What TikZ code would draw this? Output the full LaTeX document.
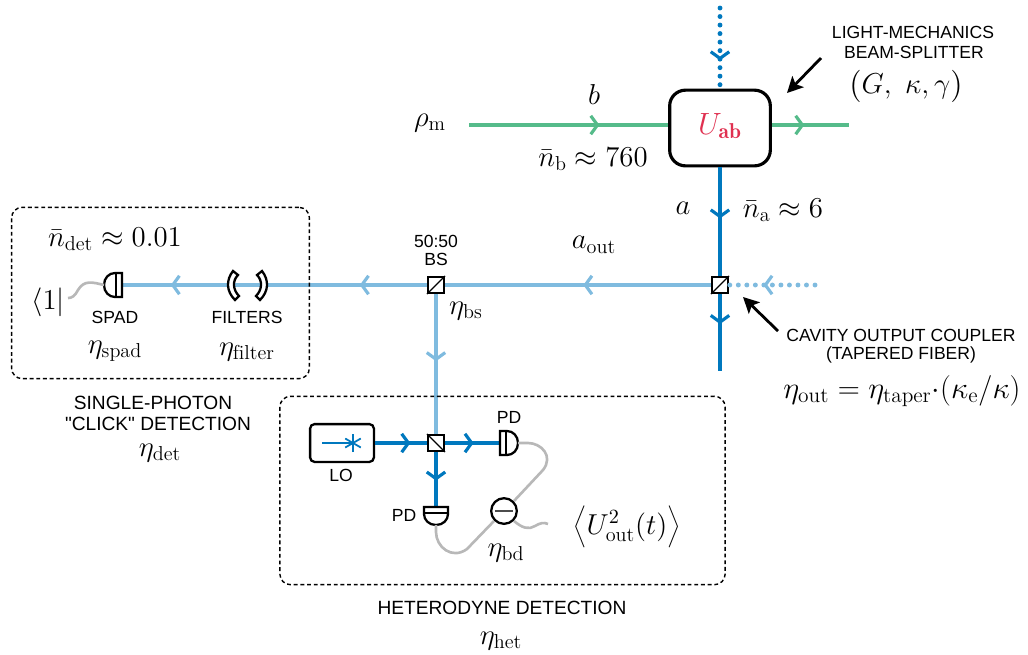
\documentclass[tikz,border=0pt]{standalone}
\usepackage{fix-cm}
\usepackage{fontspec}
\newfontfamily\labelsans{Liberation Sans}
\usetikzlibrary{arrows.meta,calc,decorations.markings}

\definecolor{beamdark}{RGB}{0,120,190}
\definecolor{beamlight}{RGB}{127,187,223}
\definecolor{beamgreen}{RGB}{85,187,138}
\definecolor{redab}{RGB}{224,48,80}
\definecolor{wiregray}{RGB}{184,184,184}

\def\tallstrut{\vrule height 11pt depth 6pt width 0pt}
\def\largedelim#1{\raisebox{-0.6pt}{\scalebox{1.12}{$#1$}}}

\tikzset{
	lbl/.style={font=\labelsans\fontsize{10}{12}\selectfont,inner sep=0},
	lblbig/.style={font=\labelsans\fontsize{10.9}{12}\selectfont,inner sep=0},
	eq/.style={font=\fontsize{16.4}{19}\selectfont,inner sep=0},
	beamtip/.style={postaction={decorate},decoration={markings,
		mark=at position #1 with {\arrow{Straight Barb[length=3.8pt,width=10.5pt,line width=1.8pt]}}}},
	darkbeam/.style={beamdark,line width=2.4pt},
	lightbeam/.style={beamlight,line width=2.5pt},
	greenbeam/.style={beamgreen,line width=2.4pt},
	dotbeam/.style={line width=2.8pt,line cap=round,dash pattern=on 0pt off 4.85pt},
	wire/.style={wiregray,line width=1.5pt},
	cube/.style={draw=black,fill=white,line width=1.3pt,minimum size=9pt,inner sep=0},
	dashbox/.style={draw=black,dash pattern=on 2.2pt off 1.6pt,line width=0.8pt,rounded corners=6pt},
	pointer/.style={-{Stealth[length=9pt,width=9pt,inset=2pt]},line width=1.6pt},
	detector/.pic={
		\draw[black,line width=1.3pt,fill=white] (0,-12) -- (0,12) -- (7,12)
			.. controls (13,12) and (18,7) .. (18,0)
			.. controls (18,-7) and (13,-12) .. (7,-12) -- cycle;
		\draw[black,line width=0.7pt] (6,-12) -- (6,12);
		\coordinate (-tip) at (18,0);
	}
}

\begin{document}
\begin{tikzpicture}[x=0.02cm,y=-0.02cm]
\useasboundingbox (0,0) rectangle (1028,654);

\coordinate (topin) at (720,8);
\coordinate (bottomend) at (720,371);
\coordinate (dotin) at (815,285);
\coordinate (rhoin) at (469,125);
\coordinate (greenout) at (849,125);

% the boxes
\node[draw=black,fill=white,line width=1.8pt,rounded corners=9pt,minimum width=57.3pt,minimum height=43.1pt,inner sep=0] (uab) at (720,128) {};
\node[cube] (coupler) at (720,285) {};
\node[cube] (bsmain) at (436,285) {};
\node[cube] (bshet) at (436,443) {};
\node[draw=black,fill=white,line width=1.3pt,rounded corners=2.5pt,minimum width=36.3pt,minimum height=21.5pt,inner sep=0] (lo) at (342,443) {};
\node[draw=black,fill=white,circle,line width=1.3pt,minimum size=14.6pt,inner sep=0] (diff) at (504,511) {};

\draw[black,line width=0.7pt] (coupler.south west)--(coupler.north east);
\draw[black,line width=0.7pt] (bsmain.south west)--(bsmain.north east);
\draw[black,line width=0.7pt] (bshet.north west)--(bshet.south east);
\draw[black!70,line width=0.6pt] (495,511)--(513,511);

% signal and pump
\draw[greenbeam,beamtip=0.655] (rhoin) -- (uab.west |- rhoin);
\draw[greenbeam,beamtip=0.42] (uab.east |- greenout) -- (greenout);
\draw[beamdark,dotbeam,beamtip=0.65] (topin) -- (uab.north);
\draw[darkbeam,beamtip=0.47] (uab.south) -- (coupler.north);
\draw[darkbeam,beamtip=0.39] (coupler.south) -- (bottomend);

\coordinate (spadflat) at (122,285);
\coordinate (pdrflat) at (500,443);
\coordinate (pdbflat) at (436,507);

\draw[beamlight,dotbeam,beamtip=0.6] (dotin) -- (coupler.east);
\draw[lightbeam,beamtip=0.48] (coupler.west) -- (bsmain.east);
\draw[lightbeam,beamtip=0.84] (bsmain.west) -- (spadflat);
\draw[lightbeam,beamtip=0.22] (bsmain.west) -- (spadflat);
\draw[lightbeam,beamtip=0.48] (bsmain.south) -- (bshet.north);

% heterodyne arm
\draw[darkbeam,beamtip=0.68] (lo.east) -- (bshet.west);
\draw[darkbeam,beamtip=0.52] (bshet.east) -- (pdrflat);
\draw[darkbeam,beamtip=0.52] (bshet.south) -- (pdbflat);

% LO emitter
\coordinate (star) at (353,443);
\draw[beamdark,line width=0.8pt] (322,443) -- (star);
\foreach \ang in {0,60,120}
	\draw[beamdark,line width=1pt] ($(star)+(90+\ang:9)$) -- ($(star)+(270+\ang:9)$);

% detectors
\pic[rotate=180] (spad) at (spadflat) {detector};
\pic (pdr) at (pdrflat) {detector};
\pic[rotate=-90] (pdb) at (pdbflat) {detector};

% filters
\draw[black,line width=1.3pt,fill=white] (233,271) .. controls (226,280) and (226,291) .. (235,300)
	-- (239,296) .. controls (233,290) and (232,281) .. (238,275) -- cycle;
\draw[black,line width=1.3pt,fill=white] (262,271) .. controls (269,280) and (269,291) .. (260,300)
	-- (256,296) .. controls (262,290) and (263,281) .. (257,275) -- cycle;

% wires
\coordinate (clickend) at (68,298);
\coordinate (diffend) at (548,524);
\draw[wire] (spad-tip) .. controls (92,282) and (84,280) .. (78,290) .. controls (75,296) and (72,298) .. (clickend);
\draw[wire] (pdr-tip) -- (528,443) .. controls (541,443) and (554,456) .. (543,470) -- (diff.north east);
\draw[wire] (pdb-tip) -- (436,532) .. controls (436,547) and (452,560) .. (467,549) -- (diff.south west);
\draw[wire] (diff.south east) .. controls (522,528) and (529,530) .. (535,526) .. controls (540,523) and (544,522) .. (diffend);

% dashed frames
\node[dashbox,minimum width=169.5pt,minimum height=97.5pt,inner sep=0] (clickbox) at (160.5,293) {};
\node[dashbox,minimum width=253.4pt,minimum height=107.2pt,inner sep=0] (hetbox) at (502.5,490.5) {};

% pointers
\coordinate (lmstart) at (821,58);
\coordinate (lmtip) at (787,93);
\coordinate (costart) at (778,331);
\coordinate (cotip) at (743,297);
\draw[pointer] (lmstart) -- (lmtip);
\draw[pointer] (costart) -- (cotip);

% labels
\node[eq,redab,font=\fontsize{17.5}{19}\selectfont] (uablabel) at (720,126) {$U_{\mathbf{ab}}$};
\node[eq] (blabel) at (594,94) {$b$};
\node[eq] (rholabel) at (430,123) {$\rho_{\mathrm{m}}$};
\node[eq] (nblabel) at (593,159) {$\bar n_{\mathrm{b}}\approx 760$};
\node[eq] (alabel) at (683,208) {$a$};
\node[eq] (nalabel) at (783,210) {$\bar n_{\mathrm{a}}\approx 6$};
\node[eq] (aoutlabel) at (594,245) {$a_{\mathrm{out}}$};
\node[eq] (ndetlabel) at (115,239) {$\bar n_{\mathrm{det}}\approx 0.01$};
\node[eq] (bralabel) at (48,302) {$\langle 1|$};
\node[eq] (etabs) at (466,311) {$\eta_{\mathrm{bs}}$};
\node[eq] (etaspad) at (115,351) {$\eta_{\mathrm{spad}}$};
\node[eq] (etafilter) at (247,352) {$\eta_{\mathrm{filter}}$};
\node[eq] (etadet) at (160,453) {$\eta_{\mathrm{det}}$};
\node[eq] (etabd) at (506,553) {$\eta_{\mathrm{bd}}$};
\node[eq] (etahet) at (501,641) {$\eta_{\mathrm{het}}$};
\node[eq] (meanu) at (627,527) {$\left\langle\tallstrut U_{\mathrm{out}}^{2}(t)\right\rangle$};
\node[eq] (gkg) at (906,86) {$\largedelim{(}G,\ \kappa,\gamma\largedelim{)}$};
\node[eq,font=\fontsize{17.4}{19}\selectfont] (etaout) at (902,391) {$\eta_{\mathrm{out}}=\eta_{\mathrm{taper}}{\cdot}(\kappa_{\mathrm{e}}/\kappa)$};

\node[lbl] (lm1) at (913,32) {LIGHT-MECHANICS};
\node[lbl] (lm2) at (914,52) {BEAM-SPLITTER};
\node[lbl] (bs1) at (436,241) {50:50};
\node[lbl] (bs2) at (436,259) {BS};
\node[lbl] (spadlabel) at (115,317) {SPAD};
\node[lbl] (filterlabel) at (247,317) {FILTERS};
\node[lblbig] (click1) at (153,403) {SINGLE-PHOTON};
\node[lblbig] (click2) at (158,424) {"CLICK" DETECTION};
\node[lbl] (co1) at (901,335) {CAVITY OUTPUT COUPLER};
\node[lbl] (co2) at (901,355) {(TAPERED FIBER)};
\node[lbl] (lolabel) at (341,475) {LO};
\node[lbl] (pdrlabel) at (509,417) {PD};
\node[lbl] (pdblabel) at (404,515) {PD};
\node[lblbig] (hetlabel) at (502,608) {HETERODYNE DETECTION};

\end{tikzpicture}
\end{document}
